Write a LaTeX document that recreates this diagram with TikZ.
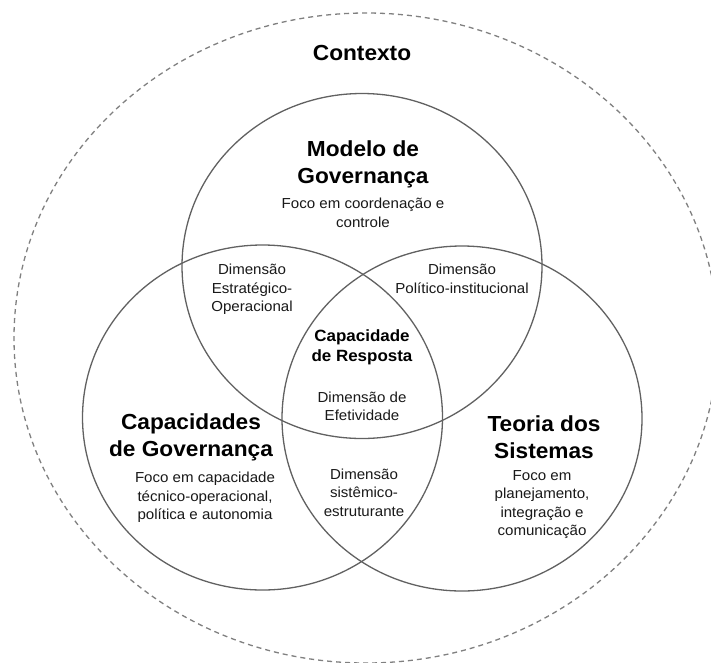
\documentclass[tikz,border=0pt]{standalone}
\usepackage{fontspec}
\setmainfont{Liberation Sans}[FakeStretch=1.04]
\begin{document}
\begin{tikzpicture}[x=1pt,y=-1pt,
  venn/.style={draw=black!62, line width=1.3pt},
  ctx/.style={draw=black!50, line width=1.3pt, dash pattern=on 5pt off 4pt},
  ttl/.style={align=center, inner sep=0pt, font=\fontsize{21.8}{27}\selectfont\bfseries},
  body/.style={align=center, inner sep=0pt, text=black!90, font=\fontsize{14.5}{18.5}\selectfont},
  core/.style={align=center, inner sep=0pt, font=\fontsize{16.3}{20}\selectfont\bfseries}]
\path[use as bounding box, fill=white] (0,0) rectangle (711,662);
\begin{scope}
\clip (0,0) rectangle (711,662);
\draw[ctx] (366,338) ellipse [x radius=352pt, y radius=325pt];
\end{scope}
\draw[venn] (362,266) ellipse [x radius=180pt, y radius=172.5pt];
\draw[venn] (262.5,417.5) ellipse [x radius=180pt, y radius=172.5pt];
\draw[venn] (462,418.5) ellipse [x radius=180pt, y radius=172.5pt];

\node[ttl] (ctxt) at (362,53) {Contexto};
\node[ttl] (modelo) at (363,164) {Modelo de\\Governança};
\node[body] (focomod) at (363,213) {Foco em coordenação e\\controle};
\node[body] (estrat) at (252,289.5) {Dimensão\\Estratégico-\\Operacional};
\node[body] (polit) at (462,279) {Dimensão\\Político-institucional};
\node[core] (resp) at (362,347.5) {Capacidade\\de Resposta};
\node[body] (efet) at (362,406.5) {Dimensão de\\Efetividade};
\node[ttl] (capgov) at (191,437.5) {Capacidades\\de Governança};
\node[body] (fococap) at (205,497.5) {Foco em capacidade\\técnico-operacional,\\política e autonomia};
\node[body] (sist) at (364,492.5) {Dimensão\\sistêmico-\\estruturante};
\node[ttl] (teoria) at (544,437) {Teoria dos\\Sistemas};
\node[body] (focoteo) at (542,504.5) {Foco em\\planejamento,\\integração e\\comunicação};
\end{tikzpicture}
\end{document}
